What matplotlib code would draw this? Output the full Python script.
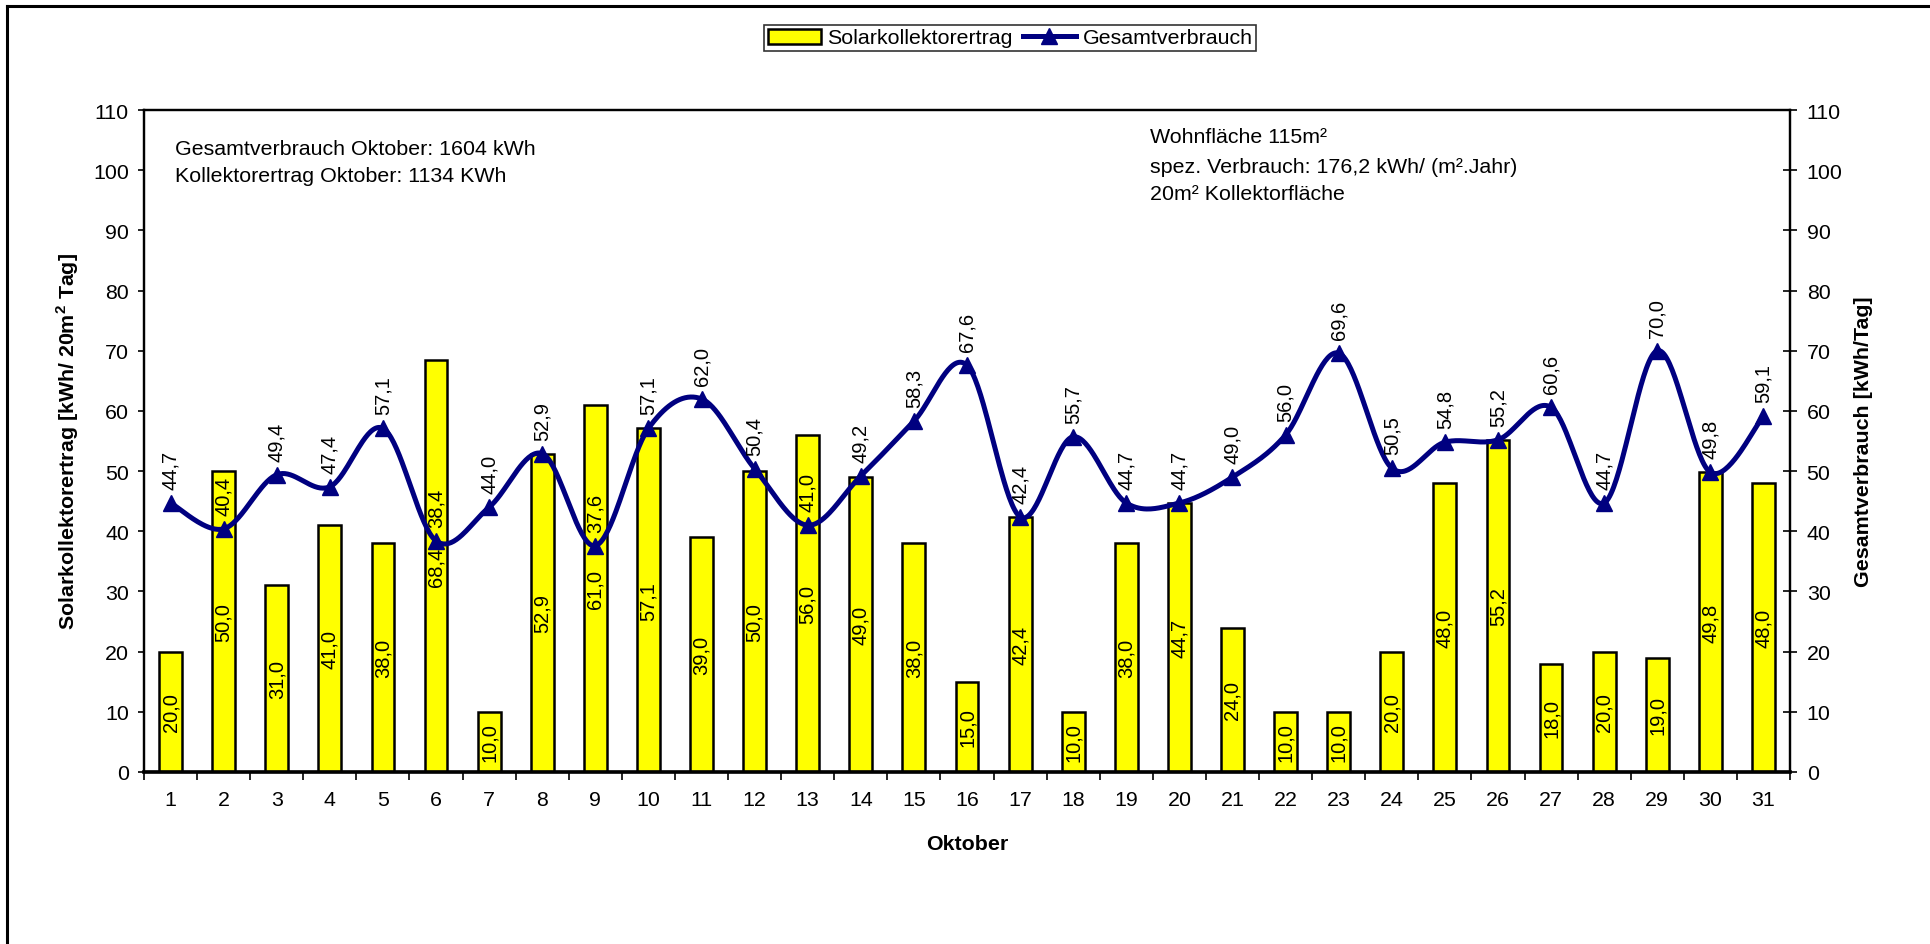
import numpy as np
import matplotlib
matplotlib.use("Agg")
import matplotlib.pyplot as plt
from matplotlib.lines import Line2D
from matplotlib.patches import Patch

plt.rcParams['font.family'] = ['Liberation Sans', 'DejaVu Sans']
plt.rcParams['mathtext.fontset'] = 'custom'
plt.rcParams['mathtext.rm'] = 'Liberation Sans'
plt.rcParams['mathtext.bf'] = 'Liberation Sans:bold'

days = list(range(1, 32))
solar = [20.0, 50.0, 31.0, 41.0, 38.0, 68.4, 10.0, 52.9, 61.0, 57.1, 39.0, 50.0, 56.0, 49.0, 38.0, 15.0,
         42.4, 10.0, 38.0, 44.7, 24.0, 10.0, 10.0, 20.0, 48.0, 55.2, 18.0, 20.0, 19.0, 49.8, 48.0]
verbrauch = [44.7, 40.4, 49.4, 47.4, 57.1, 38.4, 44.0, 52.9, 37.6, 57.1, 62.0, 50.4, 41.0, 49.2, 58.3, 67.6,
             42.4, 55.7, 44.7, 44.7, 49.0, 56.0, 69.6, 50.5, 54.8, 55.2, 60.6, 44.7, 70.0, 49.8, 59.1]
y_ticks = list(range(0, 111, 10))

W, H = 1930, 945
fig = plt.figure(figsize=(W / 100, H / 100), dpi=100)
L, R, T, B = 144, 1790, 111, 773
ax = fig.add_axes([L / W, 1 - B / H, (R - L) / W, (B - T) / H])
ax2 = ax.twinx()

FS = 15.4

# border of figure
fig.add_artist(Line2D([7 / W, 7 / W], [0, 1 - 7 / H], color='black', lw=2.2, transform=fig.transFigure))
fig.add_artist(Line2D([7 / W, 1], [1 - 7 / H, 1 - 7 / H], color='black', lw=2.2, transform=fig.transFigure))

x = np.array(days, dtype=float)
ax.bar(x, solar, width=0.43, color='#FFFF00', edgecolor='black', linewidth=1.8, zorder=2)
for xi, v in zip(x, solar):
    ax.text(xi, v / 2, f"{v:.1f}".replace('.', ','), rotation=90, ha='center', va='center',
            fontsize=14.5, zorder=3)


def smooth(xs, ys, n=40):
    pts = np.column_stack([xs, ys])
    out = []
    m = len(pts)
    for i in range(m - 1):
        p0 = pts[i - 1] if i > 0 else pts[i]
        p1 = pts[i]
        p2 = pts[i + 1]
        p3 = pts[i + 2] if i + 2 < m else pts[i + 1]
        c1 = p1 + (p2 - p0) / 6
        c2 = p2 - (p3 - p1) / 6
        t = np.linspace(0, 1, n)[:, None]
        seg = (1 - t) ** 3 * p1 + 3 * (1 - t) ** 2 * t * c1 + 3 * (1 - t) * t ** 2 * c2 + t ** 3 * p2
        out.append(seg if i == 0 else seg[1:])
    out = np.vstack(out)
    return out[:, 0], out[:, 1]


sx, sy = smooth(x, np.array(verbrauch))
navy = '#000080'
ax2.plot(sx, sy, color=navy, lw=3.6, zorder=4, solid_capstyle='round')
ax2.plot(x, verbrauch, linestyle='none', marker='^', markersize=12, color=navy, zorder=5)
for xi, v in zip(x, verbrauch):
    ax2.annotate(f"{v:.1f}".replace('.', ','), (xi, v), xytext=(0, 10), textcoords='offset points',
                 rotation=90, ha='center', va='bottom', fontsize=14.5, zorder=6)

for a in (ax, ax2):
    a.set_ylim(0, 110)
    a.set_xlim(0.5, 31.5)
    a.set_yticks(y_ticks)
    for s in a.spines.values():
        s.set_linewidth(1.6)
        s.set_color('black')
ax.spines['bottom'].set_linewidth(2.6)

ax.tick_params(axis='y', direction='out', length=4.3, width=1.2, pad=6.5, labelsize=FS)
ax2.tick_params(axis='y', direction='inout', length=10, width=1.2, pad=7, labelsize=FS)

ax.set_xticks(np.arange(0.5, 32, 1))
ax.set_xticklabels([])
ax.set_xticks(x, minor=True)
ax.set_xticklabels([str(d) for d in days], minor=True)
ax.tick_params(axis='x', which='major', direction='out', length=6, width=1.2)
ax.tick_params(axis='x', which='minor', length=0, pad=13, labelsize=FS)

ax.set_ylabel(r"Solarkollektorertrag [kWh/ 20m$^\mathbf{2}$ Tag]", fontsize=FS, fontweight='bold')
ax.yaxis.set_label_coords((81 - L) / (R - L), 0.5)
ax2.set_ylabel("Gesamtverbrauch [kWh/Tag]", fontsize=FS, fontweight='bold', rotation=90)
ax2.yaxis.set_label_coords((1854 - L) / (R - L), 0.5)
ax.set_xlabel("Oktober", fontsize=FS, fontweight='bold')
ax.xaxis.set_label_coords(0.5, (B - 835) / (B - T))

fig.text(175 / W, 1 - 155 / H, "Gesamtverbrauch Oktober: 1604 kWh", fontsize=FS, va='baseline', ha='left')
fig.text(175 / W, 1 - 182 / H, "Kollektorertrag Oktober: 1134 KWh", fontsize=FS, va='baseline', ha='left')
fig.text(1150 / W, 1 - 143 / H, "Wohnfläche 115m²", fontsize=FS, va='baseline', ha='left')
fig.text(1150 / W, 1 - 173 / H, "spez. Verbrauch: 176,2 kWh/ (m².Jahr)", fontsize=FS, va='baseline', ha='left')
fig.text(1150 / W, 1 - 200 / H, "20m² Kollektorfläche", fontsize=FS, va='baseline', ha='left')

handles = [Patch(facecolor='#FFFF00', edgecolor='black', linewidth=1.8),
           Line2D([], [], color=navy, lw=3.6, marker='^', markersize=12)]
leg = fig.legend(handles, ["Solarkollektorertrag", "Gesamtverbrauch"], loc='center',
                 bbox_to_anchor=(1010 / W, 1 - 39 / H), ncol=2, frameon=True, fancybox=False,
                 edgecolor='black', fontsize=FS, handlelength=2.5, handletextpad=0.3,
                 columnspacing=0.45, borderpad=0.15, borderaxespad=0)
leg.get_frame().set_linewidth(1.2)

fig.savefig("out.png", dpi=100, facecolor='white')
